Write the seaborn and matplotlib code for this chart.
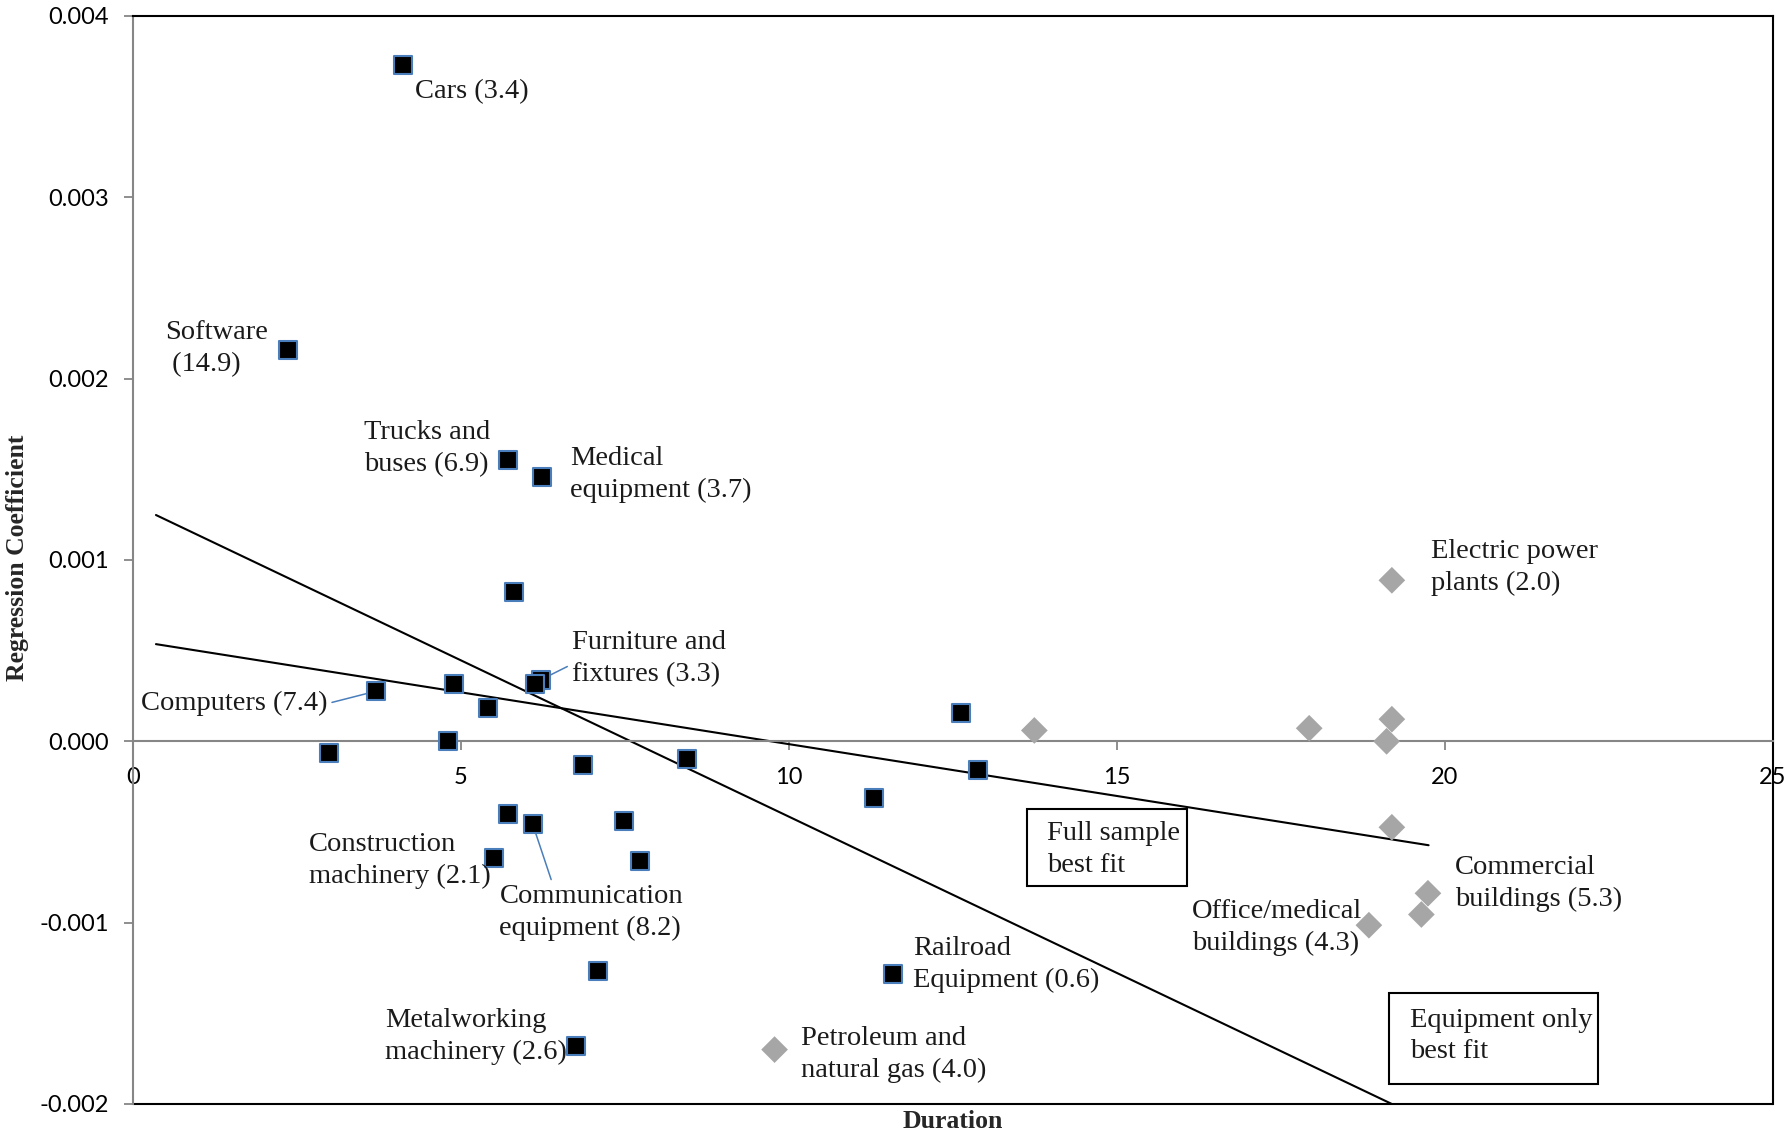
import matplotlib
matplotlib.use("Agg")
import matplotlib.pyplot as plt
from matplotlib.patches import Rectangle
import pandas as pd
import seaborn as sns

# ---------------------------------------------------------------------------
# Data: service life (years) vs. estimated regression coefficient,
# labels carry the investment share in parentheses.
# ---------------------------------------------------------------------------
equip_names = [
    "Cars (3.4)", "Software\n (14.9)", "Trucks and\nbuses (6.9)",
    "Medical\nequipment (3.7)", "", "Furniture and\nfixtures (3.3)", "",
    "Computers (7.4)", "", "", "", "", "", "", "", "", "", "",
    "Communication\nequipment (8.2)", "", "Construction\nmachinery (2.1)",
    "", "", "Railroad\nEquipment (0.6)", "Metalworking\nmachinery (2.6)",
]
equip_duration = [4.11, 2.37, 5.71, 6.23, 5.81, 6.22, 6.13, 3.71, 4.89, 5.41,
                  4.80, 2.99, 6.86, 8.44, 12.62, 12.88, 11.30, 5.71, 6.09, 7.49,
                  5.50, 7.73, 7.09, 11.58, 6.75]
equip_coef = [0.00373, 0.00216, 0.00155, 0.00146, 0.000825, 0.00034, 0.000315,
              0.000277, 0.000315, 0.000183, 0.0, -0.000063, -0.000132, -0.0001,
              0.000158, -0.000158, -0.000315, -0.000403, -0.000454, -0.000441,
              -0.000643, -0.000662, -0.001267, -0.001285, -0.001682]

struct_names = [
    "", "", "", "", "Electric power\nplants (2.0)", "",
    "Commercial\nbuildings (5.3)", "", "Office/medical\nbuildings (4.3)",
    "Petroleum and\nnatural gas (4.0)",
]
struct_duration = [13.74, 17.93, 19.19, 19.11, 19.19, 19.19, 19.74, 19.64, 18.84, 9.78]
struct_coef = [0.00006, 0.000072, 0.000122, 0.0, 0.000888, -0.000474,
               -0.000838, -0.000955, -0.001014, -0.0017]

# best-fit lines (end points)
full_fit_x = [0.35, 19.75]
full_fit_y = [0.000536, -0.000573]
equip_fit_x = [0.35, 19.19]
equip_fit_y = [0.001248, -0.002]

x_tick_labels = ["0", "5", "10", "15", "20", "25"]
y_tick_labels = ["-0.002", "-0.001", "0.000", "0.001", "0.002", "0.003", "0.004"]

# ---------------------------------------------------------------------------
# Styling
# ---------------------------------------------------------------------------
sns.set_theme(style="white")
plt.rcParams["font.family"] = ["Liberation Serif", "DejaVu Serif"]

AXIS_GRAY = "#868686"
SQUARE_EDGE = "#4a7ebb"
DIAMOND = "#a6a6a6"
LABEL_SIZE = 20.5
LINE_SPACING = 1.36

equip_df = pd.DataFrame({"duration": equip_duration, "coef": equip_coef, "name": equip_names})
struct_df = pd.DataFrame({"duration": struct_duration, "coef": struct_coef, "name": struct_names})

fig = plt.figure(figsize=(17.9, 11.33), dpi=100)
ax = fig.add_axes([0.0743, 0.0256, 0.9162, 0.9603])

sns.lineplot(x=full_fit_x, y=full_fit_y, color="black", lw=1.5, ax=ax, zorder=2)
sns.lineplot(x=equip_fit_x, y=equip_fit_y, color="black", lw=1.5, ax=ax, zorder=2)

sns.scatterplot(data=equip_df, x="duration", y="coef", marker="s", s=169,
                color="black", edgecolor=SQUARE_EDGE, linewidth=1.5,
                legend=False, ax=ax, zorder=4)
sns.scatterplot(data=struct_df, x="duration", y="coef", marker="D", s=185,
                color=DIAMOND, edgecolor="none", linewidth=0,
                legend=False, ax=ax, zorder=4)

# text placement relative to each point (offset in points)
label_layout = {
    "Cars (3.4)": dict(offset=(9, -19), ha="left"),
    "Software\n (14.9)": dict(offset=(-14.8, 0.8), ha="right"),
    "Trucks and\nbuses (6.9)": dict(offset=(-12.3, 8.6), ha="right"),
    "Medical\nequipment (3.7)": dict(offset=(20.6, 1.2), ha="left"),
    "Furniture and\nfixtures (3.3)": dict(offset=(22.2, 15.2), ha="left", leader=(0, 0.4)),
    "Computers (7.4)": dict(offset=(-35.3, -9.0), ha="right", leader=(1, 0.5)),
    "Communication\nequipment (8.2)": dict(offset=(-23.8, -64.1), ha="left", leader=(0.29, 1)),
    "Construction\nmachinery (2.1)": dict(offset=(-2.5, -2.1), ha="right"),
    "Railroad\nEquipment (0.6)": dict(offset=(14.8, 7.0), ha="left"),
    "Metalworking\nmachinery (2.6)": dict(offset=(-6.6, 7.0), ha="right"),
    "Electric power\nplants (2.0)": dict(offset=(27.9, 9.5), ha="left"),
    "Commercial\nbuildings (5.3)": dict(offset=(19.7, 7.0), ha="left"),
    "Office/medical\nbuildings (4.3)": dict(offset=(-4.9, -1.6), ha="right"),
    "Petroleum and\nnatural gas (4.0)": dict(offset=(18.9, -3.7), ha="left"),
}

for df in (equip_df, struct_df):
    for _, row in df[df["name"] != ""].iterrows():
        lay = label_layout[row["name"]]
        arrow = None
        if "leader" in lay:
            arrow = dict(arrowstyle="-", color=SQUARE_EDGE, lw=1.1,
                         relpos=lay["leader"], shrinkA=1, shrinkB=7.5)
        ax.annotate(row["name"], xy=(row["duration"], row["coef"]),
                    xytext=lay["offset"], textcoords="offset points",
                    ha=lay["ha"], va="center", multialignment="left",
                    linespacing=LINE_SPACING, fontsize=LABEL_SIZE,
                    color="#1a1a1a", arrowprops=arrow, zorder=5)

# boxed captions for the two fitted lines
ax.add_patch(Rectangle((13.63, -0.0008), 16.07 - 13.63, 0.000428,
                       fill=False, edgecolor="black", lw=1.5, zorder=5))
ax.text(13.93, -0.000595, "Full sample\nbest fit", ha="left", va="center",
        linespacing=LINE_SPACING, fontsize=LABEL_SIZE, color="#1a1a1a", zorder=6)
ax.add_patch(Rectangle((19.15, -0.00189), 22.34 - 19.15, 0.000504,
                       fill=False, edgecolor="black", lw=1.5, zorder=5))
ax.text(19.46, -0.001625, "Equipment only\nbest fit", ha="left", va="center",
        linespacing=LINE_SPACING, fontsize=LABEL_SIZE, color="#1a1a1a", zorder=6)

# axes
ax.set_xlim(0, 25)
ax.set_ylim(-0.002, 0.004)
ax.set_xticks([float(t) for t in x_tick_labels])
ax.set_xticklabels(x_tick_labels)
ax.set_yticks([float(t) for t in y_tick_labels])
ax.set_yticklabels(y_tick_labels)

ax.spines["bottom"].set_position(("data", 0))
ax.spines["bottom"].set_color(AXIS_GRAY)
ax.spines["left"].set_color(AXIS_GRAY)
ax.spines["top"].set_color("black")
ax.spines["right"].set_color("black")
for sp in ax.spines.values():
    sp.set_linewidth(1.5)
    sp.set_zorder(3)
ax.plot([0, 1], [0, 0], transform=ax.transAxes, color="black", lw=1.5,
        clip_on=False, zorder=3)

ax.tick_params(axis="both", direction="out", length=6.5, width=1.3,
               color=AXIS_GRAY, labelsize=17, labelcolor="black",
               bottom=True, left=True)
ax.tick_params(axis="x", pad=12)
ax.tick_params(axis="y", pad=11)
for lbl in ax.get_xticklabels() + ax.get_yticklabels():
    lbl.set_fontfamily("Lato")

ax.set_xlabel("Duration", fontsize=18.5, fontweight="bold", va="center")
ax.xaxis.set_label_coords(0.5, -0.0165)
ax.set_ylabel("Regression Coefficient", fontsize=18.5, fontweight="bold", va="center")
ax.yaxis.set_label_coords(-0.0705, 0.502)

fig.savefig("out.png", dpi=100)
